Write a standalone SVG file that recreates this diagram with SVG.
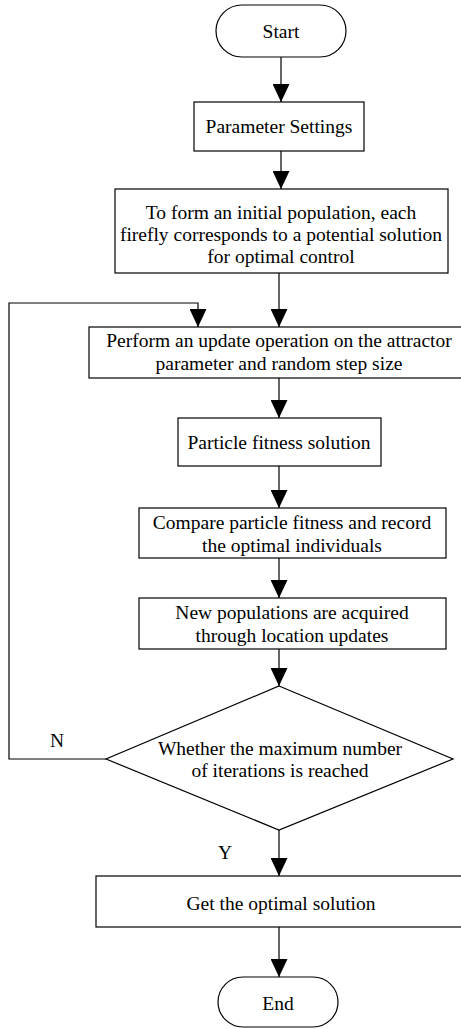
<svg xmlns="http://www.w3.org/2000/svg" width="461" height="1029" viewBox="0 0 461 1029">
<style>
.s{fill:#fff;stroke:#000;stroke-width:1.2}
.t{font-family:"Liberation Serif","Times New Roman",serif;font-size:19.5px;fill:#000;text-anchor:middle;dominant-baseline:central}
.c{fill:none;stroke:#000;stroke-width:1.2}
</style>
<defs>
<marker id="ah" markerWidth="19" markerHeight="17" refX="19" refY="9" orient="auto" markerUnits="userSpaceOnUse" viewBox="0 0 19 18">
<path d="M0,0 L19,9 L0,18 Z" fill="#000"/>
</marker>
</defs>
<rect width="461" height="1029" fill="#fff"/>
<g id="connectors">
<line class="c" x1="281" y1="57" x2="281" y2="102" marker-end="url(#ah)"/>
<line class="c" x1="281" y1="151" x2="281" y2="189" marker-end="url(#ah)"/>
<line class="c" x1="279" y1="273" x2="279" y2="327" marker-end="url(#ah)"/>
<line class="c" x1="279" y1="378" x2="279" y2="418" marker-end="url(#ah)"/>
<line class="c" x1="279" y1="466" x2="279" y2="508" marker-end="url(#ah)"/>
<line class="c" x1="279" y1="558" x2="279" y2="598" marker-end="url(#ah)"/>
<line class="c" x1="279" y1="649" x2="279" y2="686" marker-end="url(#ah)"/>
<line class="c" x1="279" y1="830" x2="279" y2="876" marker-end="url(#ah)"/>
<line class="c" x1="279" y1="927" x2="279" y2="977" marker-end="url(#ah)"/>
<polyline class="c" points="106,759 9,759 9,303 198,303 198,327" marker-end="url(#ah)"/>
<text class="t" x="57" y="740">N</text>
<text class="t" x="225" y="852">Y</text>
</g>
<g id="start">
<rect class="s" x="216" y="5" width="130" height="52" rx="26" ry="26"/>
<text class="t" x="281" y="31">Start</text>
</g>
<g id="params">
<rect class="s" x="194" y="102" width="170" height="49"/>
<text class="t" x="279" y="126">Parameter Settings</text>
</g>
<g id="init">
<rect class="s" x="115" y="189" width="333" height="84"/>
<text class="t" x="281" y="212">To form an initial population, each</text>
<text class="t" x="281" y="234">firefly corresponds to a potential solution</text>
<text class="t" x="281" y="256">for optimal control</text>
</g>
<g id="update">
<rect class="s" x="89" y="327" width="380" height="51"/>
<text class="t" x="279" y="340">Perform an update operation on the attractor</text>
<text class="t" x="279" y="363">parameter and random step size</text>
</g>
<g id="fitness">
<rect class="s" x="178" y="418" width="203" height="48"/>
<text class="t" x="279" y="442">Particle fitness solution</text>
</g>
<g id="compare">
<rect class="s" x="139" y="508" width="307" height="50"/>
<text class="t" x="292" y="522">Compare particle fitness and record</text>
<text class="t" x="292" y="545">the optimal individuals</text>
</g>
<g id="newpop">
<rect class="s" x="139" y="598" width="307" height="51"/>
<text class="t" x="292" y="612">New populations are acquired</text>
<text class="t" x="292" y="635">through location updates</text>
</g>
<g id="decision">
<polygon class="s" points="279,686 453,759 279,830 106,759"/>
<text class="t" x="280" y="748">Whether the maximum number</text>
<text class="t" x="280" y="770">of iterations is reached</text>
</g>
<g id="result">
<rect class="s" x="96" y="876" width="370" height="51"/>
<text class="t" x="281" y="903">Get the optimal solution</text>
</g>
<g id="end">
<rect class="s" x="218" y="977" width="120" height="50" rx="25" ry="25"/>
<text class="t" x="278" y="1003">End</text>
</g>
</svg>
